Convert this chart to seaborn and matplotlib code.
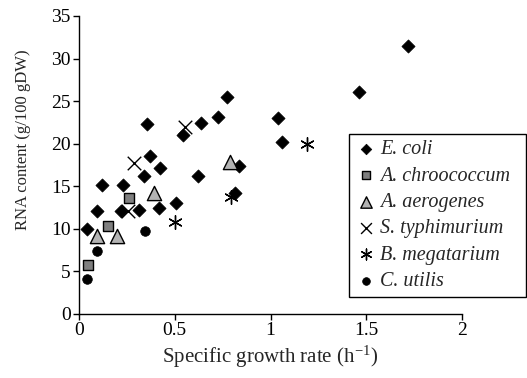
import matplotlib
matplotlib.use("Agg")
import matplotlib.pyplot as plt
import seaborn as sns
import pandas as pd

sns.set_style("ticks")
plt.rcParams['font.family'] = ['Liberation Serif', 'DejaVu Serif']
plt.rcParams['mathtext.fontset'] = 'custom'
plt.rcParams['mathtext.rm'] = 'Liberation Serif'
plt.rcParams['mathtext.it'] = 'Liberation Serif:italic'

# E. coli
ecoli_mu = [0.355, 0.369, 0.425, 0.338, 0.541, 0.639, 0.726, 0.771, 0.621, 0.835,
            1.039, 1.06, 1.72, 1.46, 0.12, 0.231, 0.813, 0.092, 0.218, 0.313,
            0.416, 0.508, 0.044]
ecoli_rna = [22.3, 18.5, 17.2, 16.2, 21.0, 22.45, 23.1, 25.5, 16.2, 17.4,
             23.0, 20.15, 31.45, 26.1, 15.1, 15.1, 14.25, 12.05, 12.05, 12.2,
             12.5, 13.0, 10.0]
# A. chroococcum
achroo_mu = [0.263, 0.151, 0.047]
achroo_rna = [13.6, 10.3, 5.8]
# A. aerogenes
aaero_mu = [0.788, 0.392, 0.092, 0.2]
aaero_rna = [17.8, 14.2, 9.2, 9.2]
# S. typhimurium
styph_mu = [0.289, 0.553, 0.258]
styph_rna = [17.7, 22.0, 12.05]
# B. megatarium
bmega_mu = [1.189, 0.794, 0.501]
bmega_rna = [19.95, 13.8, 10.75]
# C. utilis
cutil_mu = [0.345, 0.096, 0.044]
cutil_rna = [9.75, 7.4, 4.1]

series = [
    ("E. coli", ecoli_mu, ecoli_rna, dict(marker='D', color='black', s=45, edgecolor='black', linewidth=0.5)),
    ("A. chroococcum", achroo_mu, achroo_rna, dict(marker='s', color='#7f7f7f', s=62, edgecolor='black', linewidth=1.0)),
    ("A. aerogenes", aaero_mu, aaero_rna, dict(marker='^', color='#b3b3b3', s=105, edgecolor='black', linewidth=1.0)),
    ("S. typhimurium", styph_mu, styph_rna, dict(marker='x', color='black', s=95, linewidth=1.0)),
    ("B. megatarium", bmega_mu, bmega_rna, dict(marker=(6, 2, 0), color='black', s=95, linewidth=1.0)),
    ("C. utilis", cutil_mu, cutil_rna, dict(marker='o', color='black', s=48, edgecolor='black', linewidth=0.5)),
]

fig = plt.figure(figsize=(5.27, 3.78), dpi=100)
ax = fig.add_axes([79/527, 64/378, (462-79)/527, (314-16)/378])

for name, xs, ys, kw in series:
    df = pd.DataFrame({"mu": xs, "rna": ys})
    sns.scatterplot(data=df, x="mu", y="rna", ax=ax, label=name, zorder=3, **kw)

ax.set_xlim(0, 2)
ax.set_ylim(0, 35)
ax.set_xticks([0, 0.5, 1, 1.5, 2])
ax.set_xticklabels(["0", "0.5", "1", "1.5", "2"])
ax.set_yticks(range(0, 36, 5))
ax.tick_params(axis='both', labelsize=14, direction='out', length=4, width=1, colors='black', pad=2)
for sp in ['top', 'right']:
    ax.spines[sp].set_visible(False)
for sp in ['left', 'bottom']:
    ax.spines[sp].set_color('black')
    ax.spines[sp].set_linewidth(1)

ax.set_xlabel("Specific growth rate (h$^{-1}$)", fontsize=15, labelpad=3)
ax.set_ylabel("RNA content (g/100 gDW)", fontsize=12)
ax.yaxis.set_label_coords(-0.125, 0.585)

leg = ax.legend(loc='lower left', bbox_to_anchor=(349/527, 81/378, 177/527, 164/378),
                bbox_transform=fig.transFigure, mode='expand',
                frameon=True, fancybox=False, edgecolor='black', framealpha=1,
                prop={'style': 'italic', 'size': 14.5}, handletextpad=0.15, handlelength=1.1,
                borderpad=0.3, labelspacing=0.36, borderaxespad=0, markerscale=0.8)
leg.get_frame().set_linewidth(1)

fig.savefig("out.png", dpi=100)
